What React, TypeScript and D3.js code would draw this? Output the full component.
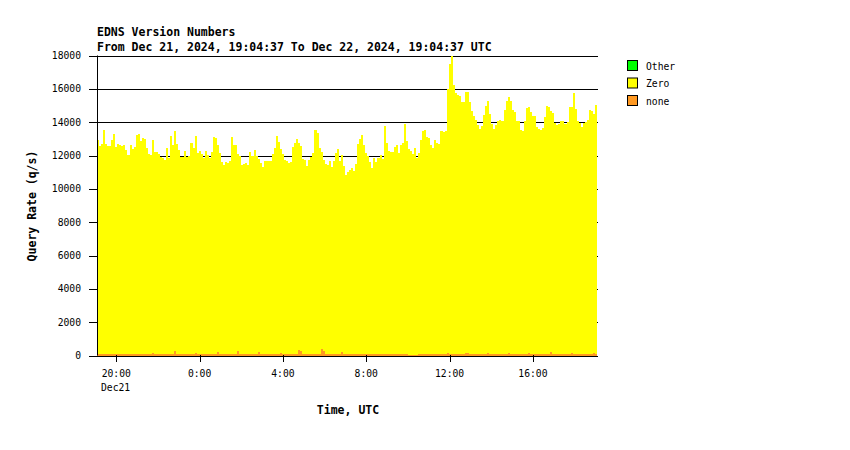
import React from 'react';
import * as d3 from 'd3';

const zeroValues: number[] = [
  12800,12440,12560,13400,12600,12480,12520,12800,13160,12440,12600,12560,12480,12560,12240,11960,12560,12320,12440,13160,13200,12800,12960,12920,12360,12000,11960,12760,12120,12160,12000,
  11840,11800,11680,12400,11760,13080,12560,13160,12560,12280,11840,11840,12200,11840,11920,12680,12360,13000,12080,12200,12040,11760,12200,11960,11760,12160,13040,12960,12440,12040,
  11540,11380,11540,11460,11580,13020,12540,12540,11820,11860,11380,11420,11460,11340,12140,11900,12260,11900,11580,11420,11260,11580,11580,11580,11580,12020,12380,13100,12740,12260,12020,11660,11580,11460,11540,12420,12660,12900,12460,12260,11740,11660,11300,11660,11820,12060,13460,13260,12380,11820,11460,11420,11340,11580,11220,11580,12060,12300,11580,11820,11260,
  10740,10960,11060,11180,10980,11420,12620,12900,13140,12540,12060,11900,11540,11180,11780,11540,11780,11940,11700,13700,12660,12220,12140,12140,12420,12540,12060,12540,12660,13820,12820,12380,12260,12100,12420,11820,12060,12860,13420,13460,13020,12980,12540,12380,12860,12700,12620,13380,13340,13380,15860,17380,17900,16140,15660,15540,15500,15140,15140,15660,15660,15140,14580,
  14300,14060,13740,13500,13700,14340,14900,15100,14420,13820,13540,13740,14020,14060,14020,14660,15220,15380,15180,14660,14540,14020,13980,13460,13380,14020,14780,14780,14540,14300,14300,13620,13540,13460,13580,14220,14900,14860,14500,14460,13900,13740,13820,13980,13980,13820,13940,14820,14740,15660,14700,13980,13860,13660,13860,13940,14060,14660,14580,14340,14900,
];

const noneValues: number[] = [
  120,120,120,120,120,120,80,120,120,80,80,80,80,80,80,80,80,80,80,80,
  80,80,80,80,80,80,80,160,90,80,80,80,80,80,80,80,80,80,300,120,
  80,80,80,80,80,80,80,80,150,90,80,80,80,80,80,80,80,80,80,200,
  90,80,80,80,80,80,80,80,80,300,120,80,80,80,80,80,80,80,80,200,
  120,80,80,80,80,80,80,80,80,80,150,90,80,80,80,80,80,80,80,320,
  300,80,80,80,80,80,80,80,80,80,400,250,80,80,80,80,80,80,80,80,
  200,90,80,80,80,80,80,80,80,80,80,80,80,80,80,80,80,80,80,80,
  80,80,80,80,80,80,80,80,80,80,80,80,80,20,20,20,20,20,80,80,
  80,80,80,80,80,80,80,80,80,80,80,80,150,90,80,80,80,80,80,80,
  80,150,130,80,80,80,80,80,80,80,80,80,150,90,80,80,80,80,80,80,
  80,80,150,90,80,80,80,80,80,80,80,80,150,90,80,80,80,80,80,80,
  80,80,80,200,100,80,80,80,80,80,80,80,80,150,90,80,80,80,80,80,
  80,80,80,80,180,120,
];

const otherValues: number[] = zeroValues.map(() => 0);

const seriesKeys = ['none', 'Zero', 'Other'];
const seriesColors: Record<string, string> = { none: '#ff9922', Zero: '#ffff00', Other: '#00ff00' };
const legendNames = ['Other', 'Zero', 'none'];
const yTicks = [0, 2000, 4000, 6000, 8000, 10000, 12000, 14000, 16000, 18000];
const startTime = Date.UTC(2024, 11, 21, 19, 4, 37);
const endTime = Date.UTC(2024, 11, 22, 19, 4, 37);
const xTickTimes = [
  Date.UTC(2024, 11, 21, 20, 0, 0),
  Date.UTC(2024, 11, 22, 0, 0, 0),
  Date.UTC(2024, 11, 22, 4, 0, 0),
  Date.UTC(2024, 11, 22, 8, 0, 0),
  Date.UTC(2024, 11, 22, 12, 0, 0),
  Date.UTC(2024, 11, 22, 16, 0, 0),
];
const xTickLabels = ['20:00', '0:00', '4:00', '8:00', '12:00', '16:00'];
const title1 = 'EDNS Version Numbers';
const title2 = 'From Dec 21, 2024, 19:04:37 To Dec 22, 2024, 19:04:37 UTC';

const MONO = "'DejaVu Sans Mono', monospace";

export default function App() {
  const left = 97, right = 597, top = 55.5, bottom = 355.5;
  const x = d3.scaleLinear().domain([startTime, endTime]).range([left, right]);
  const y = d3.scaleLinear().domain([0, 18000]).range([bottom, top]);

  const n = zeroValues.length;
  const step = (endTime - startTime) / n;
  const rows = zeroValues.map((v, i) => ({
    t: startTime + i * step,
    none: noneValues[i],
    Zero: v,
    Other: otherValues[i],
  }));
  rows.push({ ...rows[n - 1], t: endTime });

  const stack = d3.stack<any>().keys(seriesKeys);
  const layers = stack(rows);
  const area = d3
    .area<any>()
    .x((d) => x(d.data.t))
    .y0((d) => y(d[0]))
    .y1((d) => y(d[1]))
    .curve(d3.curveStepAfter);

  return (
    <svg width={850} height={450} style={{ position: 'absolute', left: 0, top: 0, background: '#fff' }}>
      <rect x={0} y={0} width={850} height={450} fill="#fff" />
      <text x={97} y={36} fontFamily={MONO} fontWeight="bold" fontSize={11.5} fill="#000">{title1}</text>
      <text x={97} y={51} fontFamily={MONO} fontWeight="bold" fontSize={11.5} fill="#000">{title2}</text>

      {yTicks.map((t) => (
        <line key={'g' + t} x1={left} x2={598} y1={Math.round(y(t)) + 0.5} y2={Math.round(y(t)) + 0.5} stroke="#000" strokeWidth={1} />
      ))}

      {layers.map((layer) => (
        <path key={layer.key} d={area(layer as any) || ''} fill={seriesColors[layer.key]} stroke="none" shapeRendering="crispEdges" />
      ))}

      <line x1={left + 0.5} x2={left + 0.5} y1={top} y2={bottom} stroke="#000" strokeWidth={1} />
      {yTicks.map((t) => (
        <g key={'yt' + t}>
          <line x1={89} x2={left} y1={Math.round(y(t)) + 0.5} y2={Math.round(y(t)) + 0.5} stroke="#000" strokeWidth={1} />
          <text x={81} y={y(t) + 3.5} textAnchor="end" fontFamily={MONO} fontSize={9.7} fill="#000">{t}</text>
        </g>
      ))}

      {xTickTimes.map((t, i) => (
        <g key={'xt' + t}>
          <line x1={Math.round(x(t)) + 0.5} x2={Math.round(x(t)) + 0.5} y1={355} y2={362} stroke="#000" strokeWidth={1} />
          <text x={x(t)} y={377} textAnchor="middle" fontFamily={MONO} fontSize={9.7} fill="#000">{xTickLabels[i]}</text>
        </g>
      ))}
      <text x={101} y={391} fontFamily={MONO} fontSize={9.7} fill="#000">Dec21</text>

      <text x={348} y={414} textAnchor="middle" fontFamily={MONO} fontWeight="bold" fontSize={11.5} fill="#000">Time, UTC</text>
      <text transform="translate(36,206) rotate(-90)" textAnchor="middle" fontFamily={MONO} fontWeight="bold" fontSize={11.5} fill="#000">Query Rate (q/s)</text>

      {legendNames.map((name, i) => (
        <g key={'lg' + name}>
          <rect x={627.5} y={60.5 + i * 17.5} width={10} height={10} fill={seriesColors[name]} stroke="#000" strokeWidth={1} />
          <text x={646} y={69.5 + i * 17.5} fontFamily={MONO} fontSize={9.7} fill="#000">{name}</text>
        </g>
      ))}
    </svg>
  );
}
